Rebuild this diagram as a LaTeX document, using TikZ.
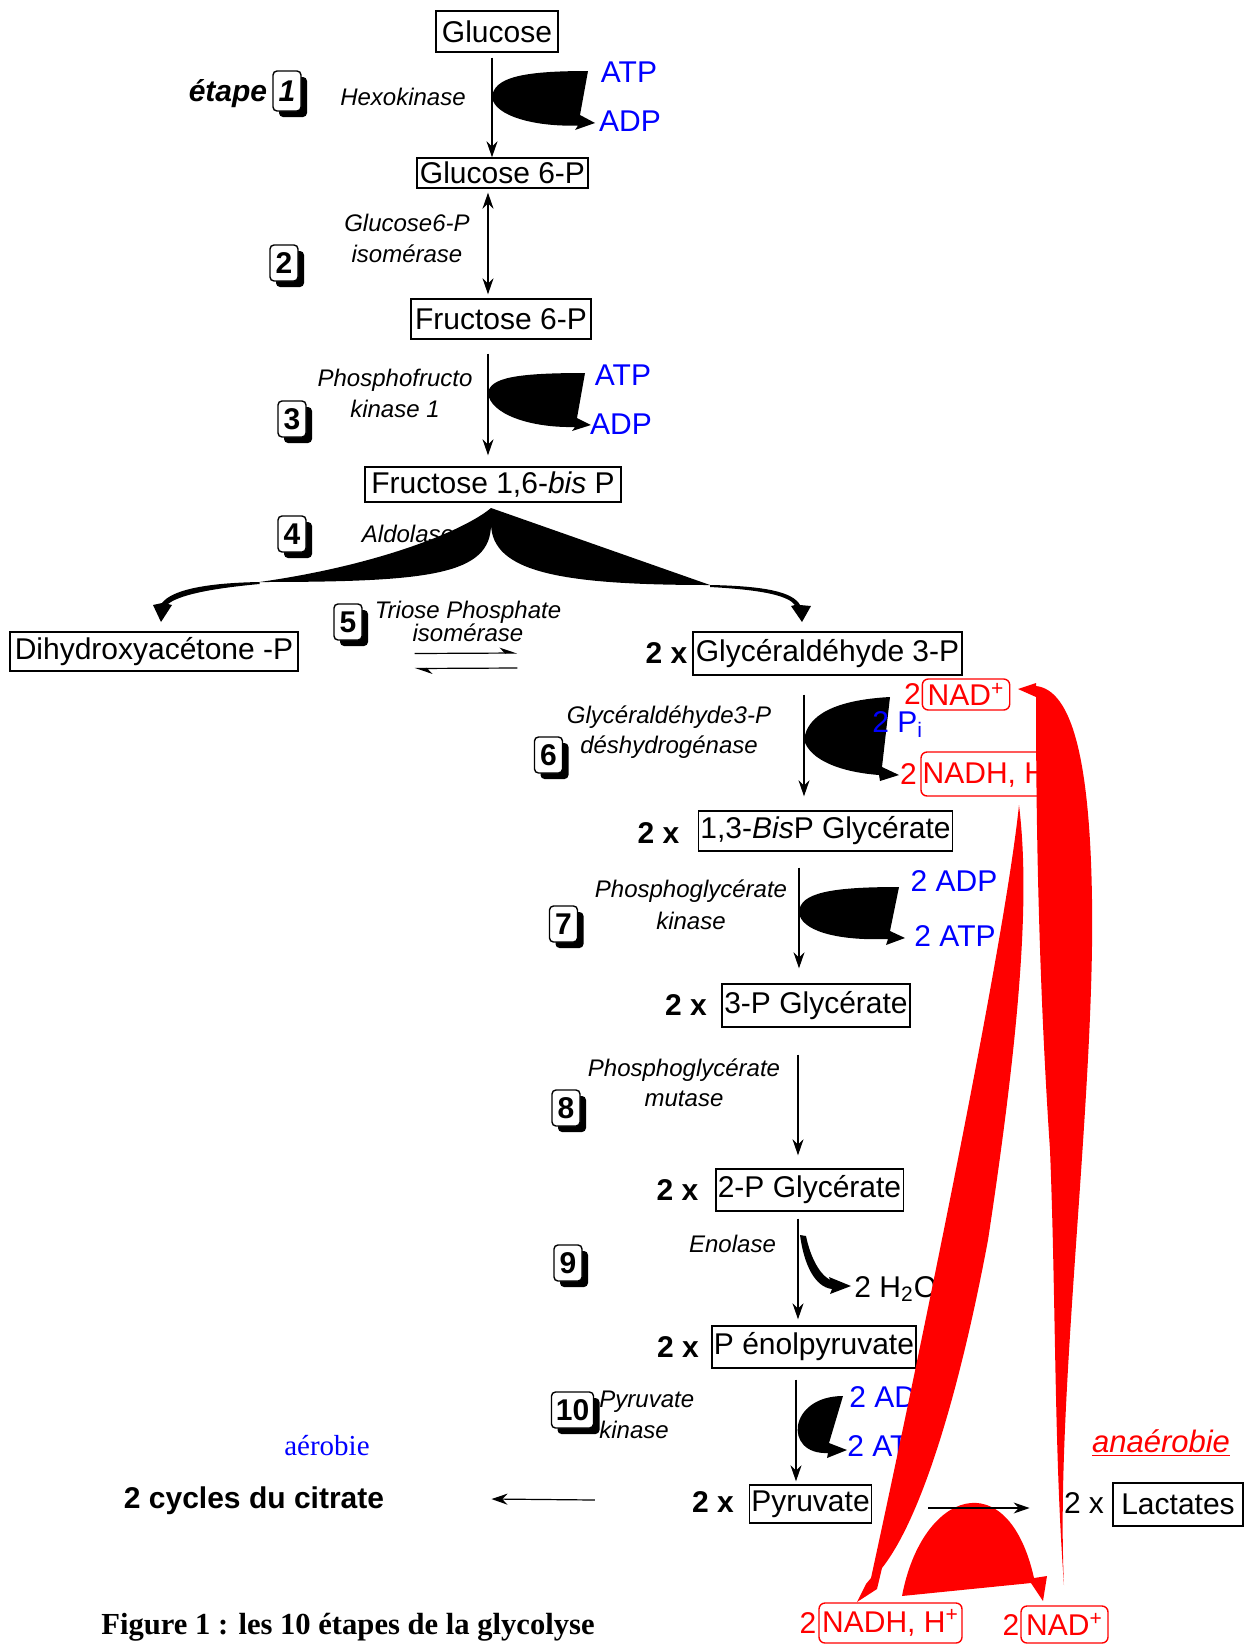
\documentclass[tikz,border=0pt]{standalone}
\usepackage{fontspec}
\setmainfont{Liberation Sans}
\newfontfamily\timesfont{Liberation Serif}
\usetikzlibrary{arrows.meta,calc,shadows}

\begin{document}
\begin{tikzpicture}[x=0.5pt,y=-0.5pt]
        \tikzstyle{every node}=[font=\fontsize{15}{18}\selectfont,inner sep=0pt]
        \tikzstyle{mol}=[draw,line width=0.7pt,inner xsep=1pt]
        \tikzstyle{twox}=[font=\fontsize{15}{18}\selectfont\bfseries]
        \tikzstyle{enz}=[font=\fontsize{12}{15.5}\selectfont\itshape,align=center]
        \tikzstyle{num}=[draw,fill=white,rounded corners=2pt,line width=0.7pt,font=\fontsize{15}{18}\selectfont\bfseries,minimum width=14pt,minimum height=18pt,drop shadow={shadow xshift=3pt,shadow yshift=-3pt,opacity=1,fill=black}]
        \tikzstyle{cof}=[text=blue]
        \tikzstyle{nad}=[draw=red,text=red,rounded corners=3pt,line width=0.7pt]
        \tikzstyle{flow}=[line width=0.6pt,>={Stealth[length=8pt,width=5.5pt]}]
        \useasboundingbox (0,0) rectangle (1254,1644);
        \node[mol,minimum width=61pt,minimum height=20.5pt] (glc) at (497,31.5) {Glucose};
        \node[mol,minimum width=85.5pt,minimum height=15pt] (g6p) at (502.5,173) {Glucose 6-P};
        \node[mol,minimum width=90pt,minimum height=20pt] (f6p) at (501,319) {Fructose 6-P};
        \node[mol,minimum width=128pt,minimum height=17.5pt] (fbp) at (493,484.5) {Fructose 1,6-\textit{bis} P};
        \node[mol,minimum width=144pt,minimum height=19.5pt] (dhap) at (154,651.5) {Dihydroxyacétone -P};
        \node[mol,minimum width=134.5pt,minimum height=21.5pt] (gap) at (827.5,653.5) {Glycéraldéhyde 3-P};
        \node[mol,minimum width=126.5pt,minimum height=20pt] (bpg) at (825.5,831) {1,3-\textit{Bis}P Glycérate};
        \node[mol,minimum width=94pt,minimum height=21.5pt] (pgc) at (816,1005.5) {3-P Glycérate};
        \node[mol,minimum width=92.5pt,minimum height=21pt] (pgb) at (809.5,1190) {2-P Glycérate};
        \node[mol,minimum width=100pt,minimum height=21pt] (pep) at (814,1347) {P énolpyruvate};
        \node[mol,minimum width=61pt,minimum height=19pt] (pyr) at (810.5,1504) {Pyruvate};
        \node[mol,minimum width=65pt,minimum height=21.5pt] (lac) at (1178,1504.5) {Lactates};
        \node[twox] (gapx) at (666.5,653) {2 x};
        \node[twox] (bpgx) at (658.5,833) {2 x};
        \node[twox] (pgcx) at (686,1005) {2 x};
        \node[twox] (pgbx) at (677.5,1190) {2 x};
        \node[twox] (pepx) at (678,1347) {2 x};
        \node[twox] (pyrx) at (713,1502) {2 x};
        \node (lacx) at (1084,1503) {2 x};
        \node[font=\fontsize{15}{18}\selectfont\bfseries\itshape] (etape) at (228,94) {étape};
        \node[num,minimum height=20pt,font=\fontsize{15}{18}\selectfont\bfseries\itshape] (s1) at (287,91) {1};
        \node[num] (s2) at (284,263) {2};
        \node[num] (s3) at (292,419) {3};
        \node[num] (s4) at (292,534) {4};
        \node[num] (s5) at (348,622) {5};
        \node[num] (s6) at (548.5,755) {6};
        \node[num] (s7) at (563.5,924) {7};
        \node[num] (s8) at (566,1108) {8};
        \node[num] (s9) at (568,1263) {9};
        \node[num,minimum width=21pt] (s10) at (572.5,1410) {10};
        \node[enz] (hk) at (403,97) {Hexokinase};
        \node[enz] (pgi) at (407,238.5) {Glucose6-P\\isomérase};
        \node[enz] (pfk) at (395,393) {Phosphofructo\\kinase 1};
        \node[enz,font=\fontsize{12}{11.5}\selectfont\itshape] (tpi) at (468,621) {Triose Phosphate\\isomérase};
        \node[enz,font=\fontsize{12}{15}\selectfont\itshape] (gapdh) at (669,732) {Glycéraldéhyde3-P\\déshydrogénase};
        \node[enz,font=\fontsize{12}{16}\selectfont\itshape] (pgk) at (691,905) {Phosphoglycérate\\kinase};
        \node[enz,font=\fontsize{12}{15}\selectfont\itshape] (pgm) at (684,1083) {Phosphoglycérate\\mutase};
        \node[enz] (eno) at (732.5,1244) {Enolase};
        \node[enz,align=left,anchor=west] (pk) at (599,1415) {Pyruvate\\kinase};
        \node[cof] (atpa) at (629,72) {ATP};
        \node[cof] (adpa) at (630,121) {ADP};
        \node[cof] (atpb) at (623,375) {ATP};
        \node[cof] (adpb) at (621,424) {ADP};
        \node[cof] (adpc) at (954,881) {2 ADP};
        \node[cof] (atpc) at (955,936) {2 ATP};
        \node[cof,anchor=west] (adpd) at (849,1397) {2 ADP};
        \node[cof,anchor=west] (atpd) at (847,1446) {2 ATP};
        \node[anchor=base west] (water) at (854,1297) {2 H\textsubscript{2}O};
        \node[font=\fontsize{15}{18}\selectfont\bfseries] (cyc) at (254,1501) {2 cycles du citrate};
        \node[text=blue,font=\timesfont\fontsize{14.5}{17}\selectfont] (aer) at (327,1446) {aérobie};
        \node[text=red,font=\fontsize{15.5}{18}\selectfont\itshape] (anaer) at (1161,1443) {\underline{anaérobie}};
        \node[font=\timesfont\fontsize{15.3}{18}\selectfont\bfseries] (fig) at (348,1627) {Figure 1 : les 10 étapes de la glycolyse};
        \draw[flow,->] ($(glc.south)+(-5,5)$) -- ($(g6p.north)+(-10.5,0)$);
        \draw[flow,<->] ($(g6p.south)+(-14.5,4)$) -- ($(f6p.north)+(-13,-4)$);
        \draw[flow,->] ($(f6p.south)+(-13,14)$) -- ($(fbp.north)+(-5,-11)$);
        \draw[flow,-{Stealth[length=8pt,width=5.5pt,harpoon]}] ($(dhap.east)+(116,2)$) -- ($(gapx.west)+(-128,0)$);
        \draw[flow,-{Stealth[length=8pt,width=5.5pt,harpoon]}] ($(gapx.west)+(-128,15)$) -- ($(dhap.east)+(116,17)$);
        \draw[flow,->] ($(gap.south)+(-23.5,19)$) -- ($(bpg.north)+(-21.5,-14)$);
        \draw[flow,->] ($(bpg.south)+(-26.5,16)$) -- ($(pgc.north)+(-17,-15)$);
        \draw[flow,->] ($(pgc.south)+(-18,27)$) -- ($(pgb.north)+(-11.5,-13)$);
        \draw[flow,->] ($(pgb.south)+(-11.5,7)$) -- ($(pep.north)+(-16,-6)$);
        \draw[flow,->] ($(pep.south)+(-18,11)$) -- ($(pyr.north)+(-14.5,-3)$);
        \draw[flow,->] ($(pyrx.west)+(-97,-2)$) -- ($(cyc.east)+(107,-2)$);
        \fill (492,97) .. controls (494,78) and (520,71) .. (588,71) -- (580,115) -- (595,123) -- (575,130) -- (578,125.5) .. controls (535,127) and (494,116) .. (492,97) -- cycle;
        \fill (488,393) .. controls (490,378) and (515,373) .. (585,373) -- (577,418) -- (591,425) -- (572,431) -- (575,427) .. controls (530,428) and (490,414) .. (488,393) -- cycle;
        \fill (259.5,582) .. controls (380,565) and (465,530) .. (491,508) -- (710,585) .. controls (560,585) and (492,572) .. (491,524) .. controls (491,575) and (430,582) .. (259.5,582) -- cycle;
        \fill (259.5,582) .. controls (205,583) and (172,590) .. (162,603) -- (153,605) -- (161,622) -- (172,605) -- (168,604) .. controls (178,596) and (205,589) .. (259.5,584) -- cycle;
        \fill (710,585) .. controls (765,586) and (793,592) .. (800,605) -- (811,606) -- (802,622) -- (791,606) -- (795,605) .. controls (788,596) and (765,590) .. (710,587) -- cycle;
        \node[enz] (ald) at (408,534) {Aldolase};
        \fill (804,740) .. controls (807,715) and (835,700) .. (890,697) -- (882,767) -- (899,775) -- (880,781) -- (879,775) .. controls (840,772) and (810,760) .. (804,740) -- cycle;
        \node[cof,anchor=base west] (pi) at (872,732) {2 P\textsubscript{i}};
        \fill (799,912) .. controls (800,893) and (830,887) .. (899,887) -- (890,931) -- (905,938) -- (886,945) -- (888,939) .. controls (835,941) and (800,930) .. (799,912) -- cycle;
        \fill (800,1235) .. controls (804,1265) and (815,1287) .. (832,1289) -- (830,1294) -- (851,1286) -- (829,1277) -- (830,1280) .. controls (818,1273) and (810,1255) .. (806,1236) -- cycle;
        \fill (843,1396) -- (829,1443) -- (847,1450) -- (827,1458) -- (828,1453) .. controls (783,1455) and (788,1396) .. (843,1396) -- cycle;
        \node[text=red] (twoa) at (912.5,694) {2};
        \node[nad,minimum width=43.7pt,minimum height=15.5pt] (nadtop) at (966,694.5) {NAD\textsuperscript{+}};
        \node[text=red] (twob) at (908.5,774) {2};
        \node[nad,minimum width=70pt,minimum height=22pt] (nadhtop) at (991,774) {NADH, H\textsuperscript{+}};
        \node[text=red] (twoc) at (808,1623) {2};
        \node[nad,minimum width=71.5pt,minimum height=20pt] (nadhbot) at (890.5,1623) {NADH, H\textsuperscript{+}};
        \node[text=red] (twod) at (1011,1625) {2};
        \node[nad,minimum width=43.5pt,minimum height=18.5pt] (nadbot) at (1064.5,1624.5) {NAD\textsuperscript{+}};
        \fill[red] (1019,805) .. controls (1028,880) and (1026,990) .. (988,1240) .. controls (958,1400) and (920,1520) .. (882,1568) -- (877,1589) -- (857,1602) -- (866,1584) -- (871,1578) .. controls (914,1380) and (1004,950) .. (1019,805) -- cycle;
        \fill[red] (1064,1585) .. controls (1055,1400) and (1095,1100) .. (1092,900) .. controls (1090,760) and (1072,690) .. (1036,686) -- (1036,683) -- (1018,689) -- (1036,697) .. controls (1036,850) and (1040,1000) .. (1050,1150) .. controls (1056,1300) and (1054,1450) .. (1064,1585) -- cycle;
        \fill[red] (902,1596) .. controls (922,1490) and (1008,1462) .. (1034,1578) -- (1047,1576) -- (1043,1601) -- (1031,1583) -- cycle;
        \draw[flow,->] ($(pyr.east)+(56,4)$) -- ($(lacx.west)+(-34,5)$);
      \end{tikzpicture}
\end{document}
